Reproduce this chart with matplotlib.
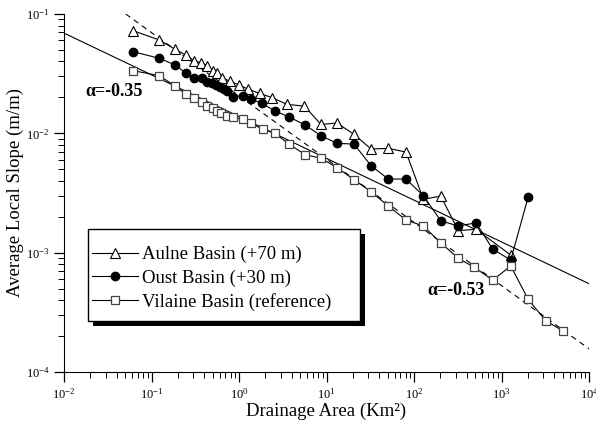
import matplotlib
matplotlib.use('Agg')
import matplotlib.pyplot as plt
from matplotlib.patches import Rectangle
import numpy as np

plt.rcParams['font.family'] = ['Liberation Serif', 'DejaVu Serif']
plt.rcParams['mathtext.fontset'] = 'custom'
plt.rcParams['mathtext.rm'] = 'Liberation Serif'

# Aulne basin (+70 m)
aulne_area = [0.062, 0.123, 0.186, 0.248, 0.308, 0.37, 0.43, 0.51, 0.56, 0.64, 0.78, 1.0,
              1.28, 1.72, 2.4, 3.5, 5.6, 8.65, 13.2, 20.6, 32.3, 50.8, 81, 128, 202, 321, 511, 1274]
aulne_slope = [0.0724, 0.0605, 0.0506, 0.0453, 0.0404, 0.0391, 0.0369, 0.0335, 0.0318, 0.0292,
               0.0274, 0.0254, 0.0234, 0.0216, 0.0199, 0.0175, 0.0169, 0.01186, 0.0122, 0.00981,
               0.00739, 0.00748, 0.00697, 0.0028, 0.00298, 0.00153, 0.00157, 0.000955]

# Oust basin (+30 m)
oust_area = [0.062, 0.123, 0.186, 0.248, 0.308, 0.375, 0.43, 0.49, 0.546, 0.607, 0.675, 0.73,
             0.853, 1.1, 1.37, 1.83, 2.58, 3.75, 5.68, 8.65, 13.2, 20.6, 32.3, 50.8, 81, 128,
             202, 321, 511, 793, 1274, 2023]
oust_slope = [0.0483, 0.0425, 0.0374, 0.0319, 0.0292, 0.0289, 0.0271, 0.0262, 0.0254, 0.0243,
              0.0234, 0.0228, 0.0203, 0.0207, 0.0194, 0.0178, 0.01537, 0.0137, 0.01175, 0.00955,
              0.00824, 0.00813, 0.00535, 0.00414, 0.00414, 0.003, 0.00185, 0.00167, 0.00178,
              0.00107, 0.000867, 0.00295]

# Vilaine basin (reference)
vilaine_area = [0.062, 0.123, 0.186, 0.248, 0.308, 0.375, 0.43, 0.5, 0.556, 0.62, 0.73, 0.853,
                1.1, 1.37, 1.86, 2.58, 3.75, 5.68, 8.65, 13.2, 20.6, 32.3, 50.8, 81, 128, 202,
                321, 490, 793, 1274, 2023, 3200, 5082]
vilaine_slope = [0.0335, 0.0304, 0.0249, 0.0212, 0.0196, 0.0184, 0.017, 0.0162, 0.0154, 0.0147,
                 0.0141, 0.0136, 0.0131, 0.01213, 0.01087, 0.01, 0.00809, 0.00664, 0.00617,
                 0.00516, 0.00409, 0.00324, 0.00246, 0.00188, 0.00167, 0.00121, 0.000895,
                 0.000753, 0.000589, 0.000773, 0.000405, 0.000269, 0.00022]

# power-law fits: slope = k * area^alpha
fit1_k, fit1_alpha, fit1_range = 0.0138, -0.35, (0.01, 1e4)
fit2_k, fit2_alpha, fit2_range = 0.0206, -0.53, (0.0507, 1e4)

fig = plt.figure(figsize=(5.96, 4.23), dpi=100)
ax = fig.add_axes([0.1074, 0.1206, 0.8809, 0.8463])

xf1 = np.array(fit1_range)
ax.plot(xf1, fit1_k * xf1 ** fit1_alpha, color='black', lw=0.8, zorder=1)
xf2 = np.array(fit2_range)
ax.plot(xf2, fit2_k * xf2 ** fit2_alpha, color='black', lw=0.8, ls=(0, (5, 4)), zorder=1)

ax.plot(aulne_area, aulne_slope, color='black', lw=0.8, marker='^', ms=7,
        mfc='white', mec='black', mew=0.8, label='Aulne Basin (+70 m)', zorder=3)
ax.plot(oust_area, oust_slope, color='black', lw=0.8, marker='o', ms=6,
        mfc='black', mec='black', label='Oust Basin (+30 m)', zorder=3)
ax.plot(vilaine_area, vilaine_slope, color='black', lw=0.8, marker='s', ms=5.5,
        mfc='white', mec='#444444', mew=0.9, label='Vilaine Basin (reference)', zorder=3)

ax.set_xscale('log')
ax.set_yscale('log')
ax.set_xlim(1e-2, 1e4)
ax.set_ylim(1e-4, 1e-1)
ax.spines['top'].set_visible(False)
ax.spines['right'].set_visible(False)
ax.tick_params(which='major', direction='out', length=7, width=0.9, labelsize=9)
ax.tick_params(which='minor', direction='out', length=4, width=0.7)

ax.set_xlabel('Drainage Area (Km²)', fontsize=13.5, labelpad=1)
ax.set_ylabel('Average Local Slope (m/m)', fontsize=13.5, labelpad=1)

ax.text(0.0174, 0.0222, 'α=-0.35', fontsize=13, fontweight='bold', va='center', ha='left')
ax.text(141, 0.000486, 'α=-0.53', fontsize=13, fontweight='bold', va='center', ha='left')

# legend box with a solid offset shadow, drawn by hand
box_x0, box_x1 = 0.0457, 0.5638
box_y0, box_y1 = 0.1425, 0.3994
sx, sy = 5 / 525, 5 / 358
ax.add_patch(Rectangle((box_x0 + sx, box_y0 - sy), box_x1 - box_x0, box_y1 - box_y0,
                       transform=ax.transAxes, facecolor='black', edgecolor='none',
                       zorder=5, clip_on=False))
ax.add_patch(Rectangle((box_x0, box_y0), box_x1 - box_x0, box_y1 - box_y0,
                       transform=ax.transAxes, facecolor='white', edgecolor='black',
                       lw=1.0, zorder=5.5, clip_on=False))

leg = ax.legend(loc='center left', bbox_to_anchor=(box_x0, 0.2615),
                borderaxespad=0, fontsize=13.5, frameon=False, numpoints=1,
                handlelength=2.45, handletextpad=0.25, labelspacing=0.33, borderpad=0.2)
leg.set_zorder(6)

fig.savefig('out.png', dpi=100)
